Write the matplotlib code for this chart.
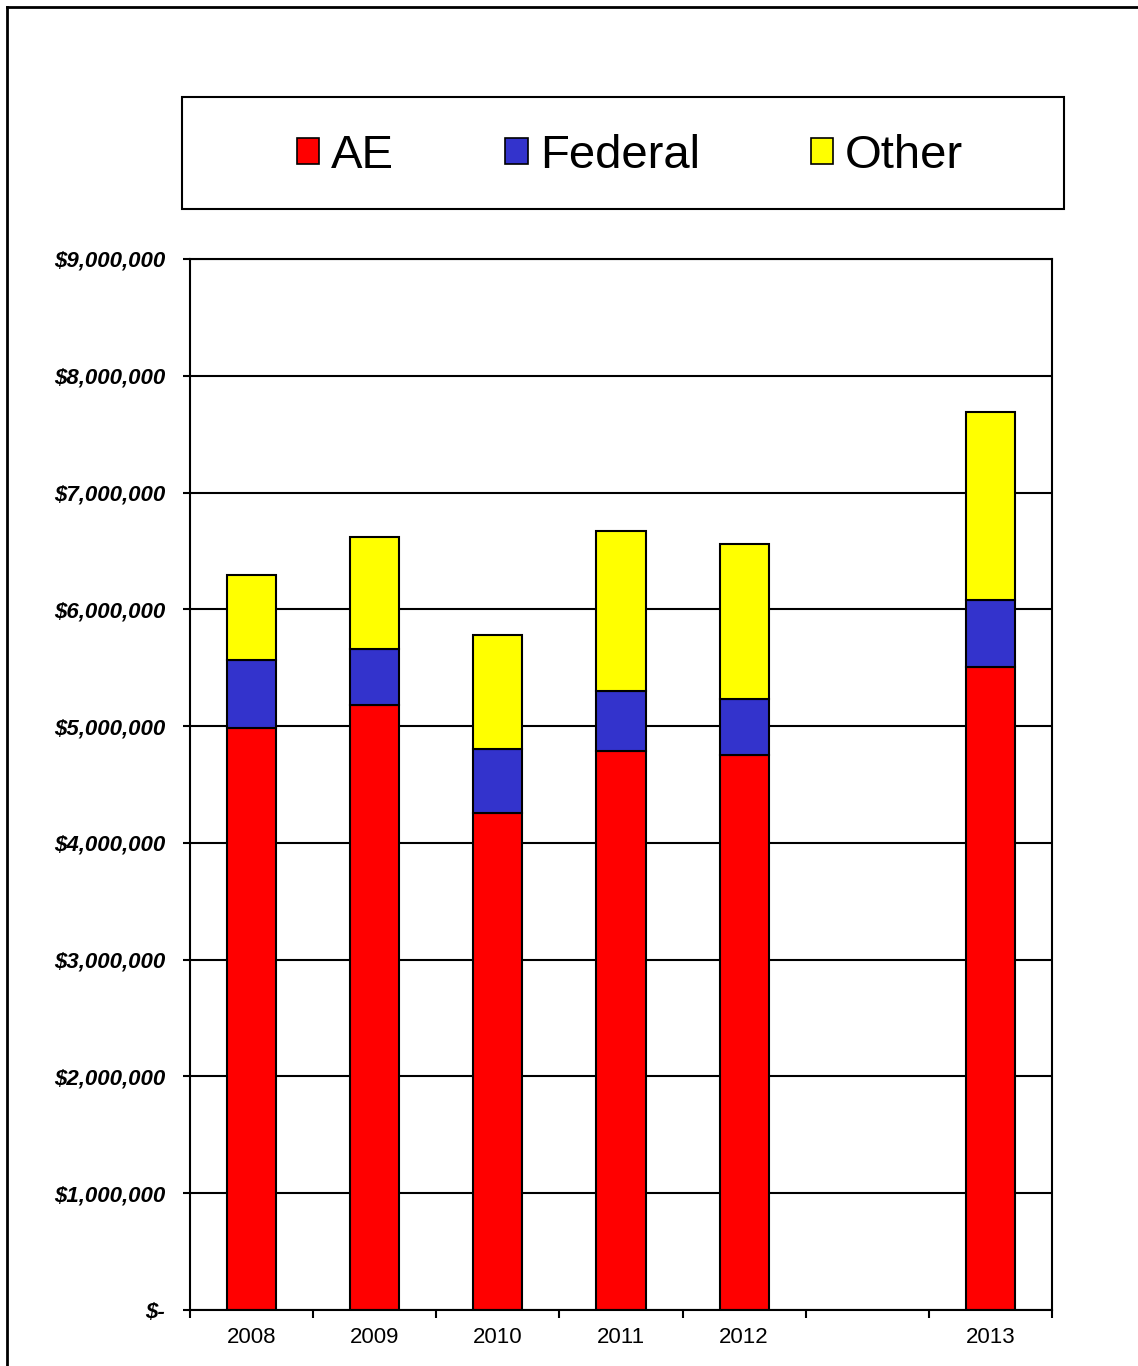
import matplotlib.pyplot as plt
from matplotlib.patches import Rectangle, Patch
from matplotlib.lines import Line2D
from matplotlib.ticker import FuncFormatter, FixedLocator
import numpy as np

plt.rcParams['font.family'] = ['Liberation Sans', 'DejaVu Sans']

# data (dollars); the empty slot before 2013 is a gap in the category axis
years = ['2008', '2009', '2010', '2011', '2012', '', '2013']
ae = [4980000, 5180000, 4255000, 4785000, 4750000, 0, 5510000]
federal = [585000, 480000, 545000, 515000, 480000, 0, 570000]
other = [725000, 960000, 980000, 1370000, 1330000, 0, 1610000]
series = ['AE', 'Federal', 'Other']
colors = ['#FF0000', '#3333CC', '#FFFF00']

W, H = 1138, 1366
fig = plt.figure(figsize=(W / 100, H / 100), dpi=100)
ax = fig.add_axes([190 / W, 1 - 1310 / H, 862 / W, 1051 / H])

x = np.arange(len(years))
bottom = np.zeros(len(years))
for name, vals, c in zip(series, [ae, federal, other], colors):
    vals = np.array(vals, dtype=float)
    mask = vals > 0
    ax.bar(x[mask], vals[mask], width=0.4, bottom=bottom[mask], color=c,
           edgecolor='black', linewidth=1.5, zorder=3, label=name)
    bottom += vals

ax.set_xlim(-0.5, len(years) - 0.5)
ax.set_ylim(0, 9000000)
ax.set_yticks(np.arange(0, 9000001, 1000000))
ax.yaxis.set_major_formatter(FuncFormatter(
    lambda v, p: '$-' if v == 0 else f'${v:,.0f}'))
ax.grid(axis='y', color='black', linewidth=1.5, zorder=1)
for lab in ax.get_yticklabels():
    lab.set_fontsize(16)
    lab.set_fontweight('bold')
    lab.set_fontstyle('italic')
ax.tick_params(axis='y', length=5, width=1.5, pad=13)

ax.xaxis.set_major_locator(FixedLocator(np.arange(-0.5, len(years), 1.0)))
ax.xaxis.set_major_formatter(FuncFormatter(lambda v, p: ''))
ax.xaxis.set_minor_locator(FixedLocator(x))
ax.set_xticklabels(years, minor=True)
ax.tick_params(axis='x', which='major', length=6, width=1.5)
ax.tick_params(axis='x', which='minor', length=0, pad=12, labelsize=16)

for s in ax.spines.values():
    s.set_linewidth(1.5)
    s.set_zorder(4)

# legend box
fig.patches.append(Rectangle((182 / W, 1 - 209 / H), 882 / W, 112 / H,
                             transform=fig.transFigure, fill=False,
                             edgecolor='black', linewidth=1.5))
handles = [Patch(facecolor=c, edgecolor='black', linewidth=1.2) for c in colors]
fig.legend(handles, series, loc='center', bbox_to_anchor=(630 / W, 1 - 156 / H),
           ncol=3, frameon=False, fontsize=34, handlelength=0.48,
           handleheight=0.48, handletextpad=0.25, columnspacing=2.35)

# outer frame
fig.add_artist(Line2D([7 / W, 7 / W], [0, 1 - 7 / H], transform=fig.transFigure,
                      color='black', linewidth=2))
fig.add_artist(Line2D([7 / W, 1], [1 - 7 / H, 1 - 7 / H], transform=fig.transFigure,
                      color='black', linewidth=2))

fig.savefig('out.png', dpi=100)
